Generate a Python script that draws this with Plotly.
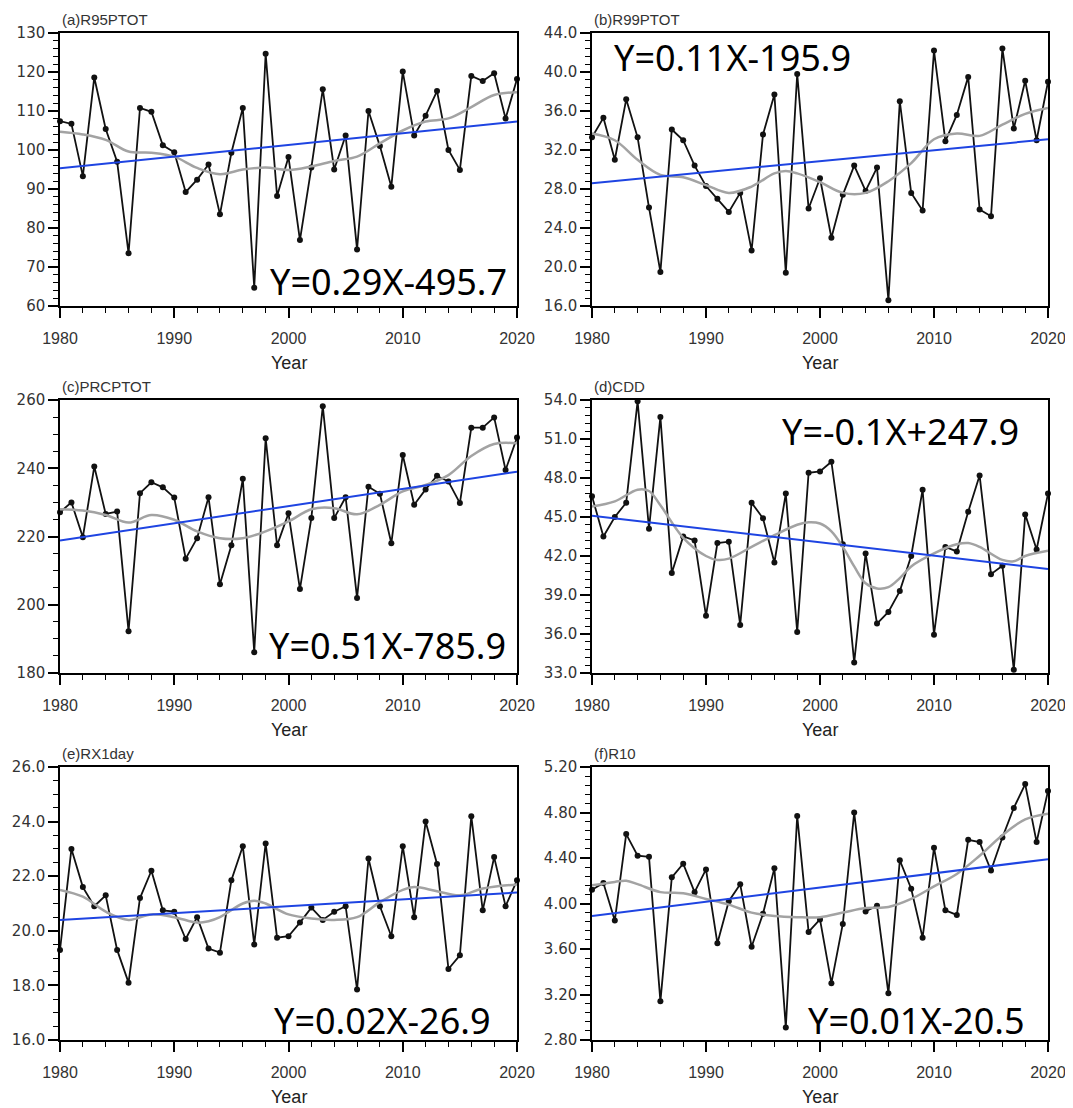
import plotly.graph_objects as go

# page body has an 8px margin at top-left: figure fills the rest of the window
OFF = 8
W, H = 1073 - OFF, 1108 - OFF

years = list(range(1980, 2021))

# ---- series values ----
r95ptot = [107.4, 106.7, 93.3, 118.6, 105.4, 97.0, 73.5, 110.8, 109.8, 101.2,
           99.4, 89.2, 92.4, 96.3, 83.5, 99.3, 110.8, 64.7, 124.7, 88.2,
           98.2, 76.9, 95.5, 115.6, 95.0, 103.7, 74.5, 110.0, 101.0, 90.6,
           120.1, 103.7, 108.8, 115.1, 100.0, 94.9, 119.0, 117.7, 119.7, 108.1, 118.2]
r99ptot = [33.3, 35.3, 31.0, 37.2, 33.3, 26.1, 19.5, 34.1, 33.0, 30.4,
           28.3, 27.0, 25.65, 27.6, 21.7, 33.6, 37.7, 19.4, 39.8, 26.0,
           29.1, 23.0, 27.4, 30.4, 27.8, 30.2, 16.6, 37.0, 27.6, 25.8,
           42.2, 32.9, 35.6, 39.5, 25.9, 25.2, 42.4, 34.2, 39.1, 33.0, 39.0]
prcptot = [227.1, 230.0, 219.8, 240.5, 226.6, 227.3, 192.2, 232.7, 235.9, 234.4,
           231.4, 213.5, 219.5, 231.5, 206.0, 217.4, 236.9, 186.1, 248.8, 217.4,
           226.8, 204.6, 225.4, 258.2, 225.4, 231.5, 202.0, 234.6, 232.5, 218.0,
           243.9, 229.3, 233.8, 237.8, 236.1, 229.8, 251.9, 251.9, 254.9, 239.5, 249.0]
cdd = [46.6, 43.5, 45.0, 46.1, 53.9, 44.1, 52.7, 40.7, 43.5, 43.2,
       37.4, 43.0, 43.1, 36.7, 46.1, 44.9, 41.5, 46.8, 36.15, 48.4,
       48.5, 49.25, 42.9, 33.8, 42.2, 36.8, 37.7, 39.3, 42.0, 47.1,
       35.95, 42.7, 42.35, 45.4, 48.2, 40.6, 41.25, 33.25, 45.2, 42.5, 46.8]
rx1day = [19.3, 23.0, 21.6, 20.9, 21.3, 19.3, 18.1, 21.2, 22.2, 20.75,
          20.7, 19.7, 20.5, 19.35, 19.2, 21.85, 23.1, 19.5, 23.2, 19.75,
          19.8, 20.3, 20.85, 20.4, 20.7, 20.9, 17.85, 22.65, 20.9, 19.8,
          23.1, 20.5, 24.0, 22.45, 18.6, 19.1, 24.2, 20.75, 22.7, 20.9, 21.85]
r10 = [4.12, 4.18, 3.85, 4.61, 4.42, 4.41, 3.14, 4.23, 4.35, 4.10,
       4.30, 3.65, 4.02, 4.17, 3.62, 3.91, 4.31, 2.91, 4.77, 3.75,
       3.86, 3.30, 3.82, 4.80, 3.93, 3.98, 3.21, 4.38, 4.13, 3.70,
       4.49, 3.94, 3.90, 4.56, 4.54, 4.29, 4.58, 4.84, 5.05, 4.54, 4.99]

# ---- smoothed (gray) curves, read at selected years ----
smooth_a_x = [1980, 1982, 1984, 1986, 1988, 1990, 1992, 1994, 1996, 1998, 2000,
              2002, 2004, 2006, 2008, 2010, 2012, 2014, 2016, 2018, 2020]
smooth_a_y = [104.7, 104.0, 102.6, 99.6, 99.3, 98.3, 95.4, 93.8, 95.0, 95.5, 94.9,
              95.8, 97.2, 98.3, 101.7, 105.0, 107.3, 108.1, 111.0, 114.1, 114.8]
smooth_b_x = [1980, 1982, 1984, 1986, 1988, 1990, 1992, 1994, 1996, 1997, 1998,
              2000, 2002, 2004, 2006, 2008, 2010, 2012, 2014, 2016, 2018, 2020]
smooth_b_y = [33.7, 33.0, 31.0, 29.45, 29.2, 28.4, 27.6, 28.25, 29.6, 29.85, 29.6,
              28.7, 27.6, 27.6, 28.8, 30.65, 33.1, 33.7, 33.45, 34.6, 35.7, 36.3]
smooth_c_x = [1980, 1982, 1984, 1986, 1988, 1990, 1992, 1994, 1996, 1998, 2000,
              2002, 2004, 2006, 2008, 2010, 2012, 2014, 2016, 2018, 2020]
smooth_c_y = [228.0, 227.6, 226.3, 224.1, 226.3, 224.9, 221.5, 219.5, 219.5, 221.5, 224.4,
              228.0, 228.3, 226.5, 229.3, 233.2, 235.1, 238.0, 243.6, 247.1, 247.3]
smooth_d_x = [1980, 1982, 1984, 1985, 1986, 1988, 1990, 1991, 1992, 1994, 1996, 1998,
              1999, 2000, 2001, 2002, 2003, 2004, 2005, 2006, 2007, 2008, 2010, 2012,
              2013, 2014, 2016, 2017, 2018, 2020]
smooth_d_y = [45.8, 46.2, 47.1, 47.0, 45.9, 43.4, 42.0, 41.7, 41.8, 42.7, 43.6, 44.4,
              44.6, 44.5, 43.9, 42.7, 41.2, 39.9, 39.5, 39.6, 40.3, 41.2, 42.2, 42.9,
              43.0, 42.7, 41.7, 41.6, 42.0, 42.4]
smooth_e_x = [1980, 1982, 1984, 1986, 1988, 1990, 1992, 1993, 1994, 1996, 1997, 1998,
              2000, 2002, 2004, 2006, 2008, 2010, 2011, 2013, 2015, 2017, 2020]
smooth_e_y = [21.5, 21.25, 20.7, 20.4, 20.6, 20.5, 20.3, 20.35, 20.5, 21.0, 21.1, 21.0,
              20.6, 20.45, 20.4, 20.5, 21.05, 21.5, 21.6, 21.45, 21.3, 21.55, 21.7]
smooth_f_x = [1980, 1982, 1983, 1984, 1986, 1988, 1990, 1992, 1994, 1996, 1998,
              2000, 2002, 2004, 2006, 2008, 2010, 2012, 2014, 2016, 2018, 2020]
smooth_f_y = [4.16, 4.19, 4.20, 4.17, 4.10, 4.09, 4.04, 3.99, 3.92, 3.89, 3.88,
              3.88, 3.92, 3.96, 3.97, 4.04, 4.15, 4.26, 4.42, 4.60, 4.74, 4.79]

# ---- linear trend lines (end values) ----
trend_years = [1980, 2020]
trend_a = [95.3, 107.3]
trend_b = [28.6, 33.1]
trend_c = [218.8, 239.0]
trend_d = [45.1, 41.0]
trend_e = [20.4, 21.4]
trend_f = [3.89, 4.39]

titles = ["(a)R95PTOT", "(b)R99PTOT", "(c)PRCPTOT", "(d)CDD", "(e)RX1day", "(f)R10"]
equations = ["Y=0.29X-495.7", "Y=0.11X-195.9", "Y=0.51X-785.9",
             "Y=-0.1X+247.9", "Y=0.02X-26.9", "Y=0.01X-20.5"]
x_ticks = [1980, 1990, 2000, 2010, 2020]

series = [r95ptot, r99ptot, prcptot, cdd, rx1day, r10]
smooth_x = [smooth_a_x, smooth_b_x, smooth_c_x, smooth_d_x, smooth_e_x, smooth_f_x]
smooth_y = [smooth_a_y, smooth_b_y, smooth_c_y, smooth_d_y, smooth_e_y, smooth_f_y]
trends = [trend_a, trend_b, trend_c, trend_d, trend_e, trend_f]

# ---- styles / layout (positions in window pixels) ----
yranges = [(60, 130), (16, 44), (180, 260), (33, 54), (16, 26), (2.8, 5.2)]
ydticks = [10, 4, 20, 3, 2, 0.4]
yminor = [2, 0.8, 5, 0.6, 0.5, 0.08]
yfmt = ["d", ".1f", "d", ".1f", ".1f", ".2f"]
eq_pos = [(388, 282), (732, 57), (387, 645), (900, 431), (382, 1020), (916, 1020)]

cols_px = [(60, 517), (592, 1048)]
rows_px = [(33, 306), (400, 673), (767, 1040)]


def px_x(px):
    return (px - OFF) / W


def px_y(py):
    return 1 - (py - OFF) / H


fig = go.Figure()
layout = dict(width=W, height=H, margin=dict(l=0, r=0, t=0, b=0, autoexpand=False),
              paper_bgcolor="white", plot_bgcolor="white", showlegend=False)
annotations = []

for i in range(6):
    r, c = divmod(i, 2)
    x0, x1 = cols_px[c]
    ytop, ybot = rows_px[r]
    n = i + 1
    xa = "x" if n == 1 else f"x{n}"
    ya = "y" if n == 1 else f"y{n}"
    xkey = "xaxis" if n == 1 else f"xaxis{n}"
    ykey = "yaxis" if n == 1 else f"yaxis{n}"

    fig.add_trace(go.Scatter(x=years, y=series[i], mode="lines+markers",
                             line=dict(color="#111111", width=1.8),
                             marker=dict(color="#111111", size=6),
                             xaxis=xa, yaxis=ya, cliponaxis=False))
    fig.add_trace(go.Scatter(x=smooth_x[i], y=smooth_y[i], mode="lines",
                             line=dict(color="#a3a3a3", width=2.5, shape="spline", smoothing=1.0),
                             xaxis=xa, yaxis=ya))
    fig.add_trace(go.Scatter(x=trend_years, y=trends[i], mode="lines",
                             line=dict(color="#1e44e2", width=2),
                             xaxis=xa, yaxis=ya))

    layout[xkey] = dict(domain=[px_x(x0), px_x(x1)], anchor=ya, range=[1980, 2020],
                        automargin=False,
                        tickvals=x_ticks, ticks="outside", ticklen=10, tickwidth=1.5,
                        tickcolor="black", showline=True, linecolor="black", linewidth=1.5,
                        mirror=True, showgrid=False, zeroline=False,
                        ticklabelstandoff=7,
                        tickfont=dict(family="Liberation Sans", size=16, color="#333333"),
                        minor=dict(dtick=2, tick0=1980, ticks="outside", ticklen=5,
                                   tickcolor="black", tickwidth=1, showgrid=False))
    lo, hi = yranges[i]
    layout[ykey] = dict(domain=[px_y(ybot), px_y(ytop)], anchor=xa, range=[lo, hi],
                        automargin=False,
                        tick0=lo, dtick=ydticks[i], tickformat=yfmt[i],
                        ticks="outside", ticklen=10, tickwidth=1.5, tickcolor="black",
                        showline=True, linecolor="black", linewidth=1.5, mirror=True,
                        showgrid=False, zeroline=False,
                        tickfont=dict(family="DejaVu Sans", size=15, color="#333333"),
                        minor=dict(dtick=yminor[i], tick0=lo, ticks="outside", ticklen=5,
                                   tickcolor="black", tickwidth=1, showgrid=False))

    annotations.append(dict(text=titles[i], xref="paper", yref="paper",
                            x=px_x(x0), y=px_y(ytop - 14), xanchor="left", yanchor="middle",
                            showarrow=False,
                            font=dict(family="Liberation Sans", size=15, color="#333333")))
    annotations.append(dict(text="Year", xref="paper", yref="paper",
                            x=px_x((x0 + x1) / 2), y=px_y(ybot + 57),
                            xanchor="center", yanchor="middle", showarrow=False,
                            font=dict(family="Liberation Sans", size=18, color="#222222")))
    ex, ey = eq_pos[i]
    annotations.append(dict(text=equations[i], xref="paper", yref="paper",
                            x=px_x(ex), y=px_y(ey), xanchor="center", yanchor="middle",
                            showarrow=False,
                            font=dict(family="Noto Sans", size=36, color="black")))

layout["annotations"] = annotations
fig.update_layout(**layout)
fig.write_html("out.html")
